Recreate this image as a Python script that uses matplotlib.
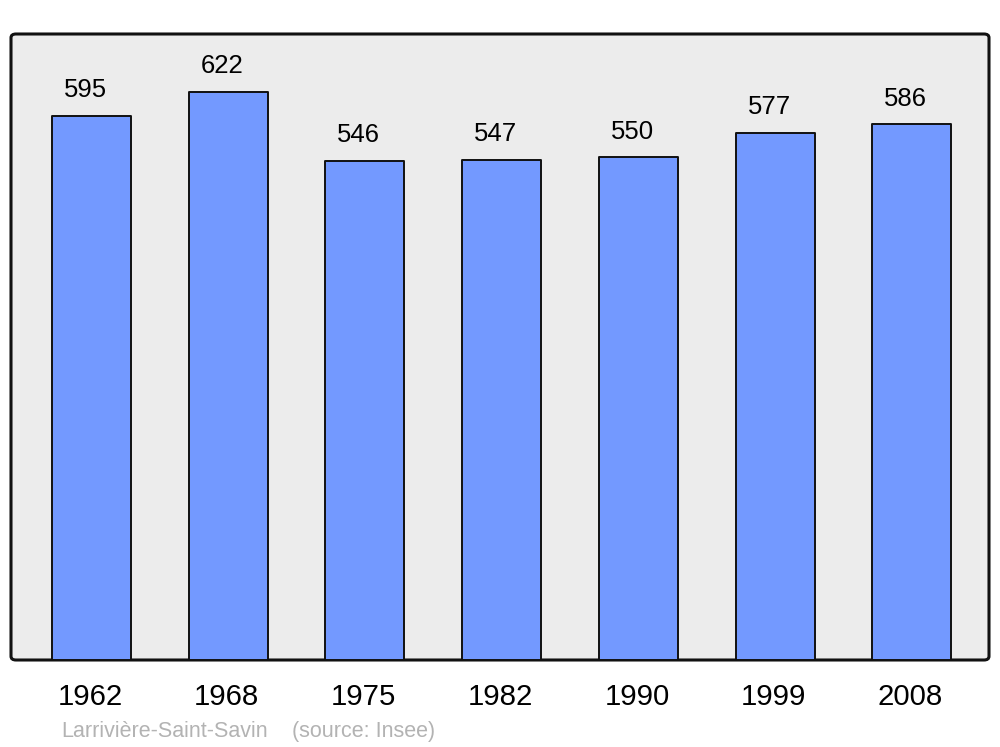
import matplotlib.pyplot as plt
from matplotlib.patches import FancyBboxPatch

years = ["1962", "1968", "1975", "1982", "1990", "1999", "2008"]
population = [595, 622, 546, 547, 550, 577, 586]
commune = "Larrivière-Saint-Savin"
source = "(source: Insee)"

plt.rcParams["font.family"] = ["Liberation Sans", "DejaVu Sans"]

W, H = 1000, 747
fig = plt.figure(figsize=(W / 100, H / 100), dpi=100)

# grey panel with rounded corners (figure pixels -> fraction)
x0, y0, x1, y1 = 11, 34, 989, 660
panel = FancyBboxPatch(
    (x0 / W, 1 - y1 / H), (x1 - x0) / W, (y1 - y0) / H,
    boxstyle="round,pad=0,rounding_size=0.005",
    transform=fig.transFigure, facecolor="#ececec", edgecolor="#111111",
    linewidth=2.2, zorder=-1,
)
fig.patches.append(panel)

ax = fig.add_axes([x0 / W, 1 - y1 / H, (x1 - x0) / W, (y1 - y0) / H])
ax.set_zorder(1)
ax.set_facecolor("none")
ax.axis("off")

step = 136.75
xpos = list(range(len(years)))
ax.bar(xpos, population, width=79 / step, color="#7399ff",
       edgecolor="#111111", linewidth=1.4, joinstyle="round", zorder=2,
       clip_on=False)
ax.set_xlim(-80.5 / step, 6 + 77 / step)
ax.set_ylim(0, 685)

for i, v in enumerate(population):
    ax.annotate(str(v), (i, v), xytext=(-4.5, 13.5), textcoords="offset points",
                ha="center", va="baseline", fontsize=18.5, color="black")
    ax.annotate(years[i], (i, 0), xytext=(-1, -32.5), textcoords="offset points",
                ha="center", va="baseline", fontsize=21.2, color="black")

fig.text(61 / W, 1 - 737 / H, commune, fontsize=15.5, color="#b3b3b3",
         va="baseline", ha="left")
fig.text(292 / W, 1 - 737 / H, source, fontsize=15.5, color="#b3b3b3",
         va="baseline", ha="left")

fig.savefig("out.png", dpi=100)
